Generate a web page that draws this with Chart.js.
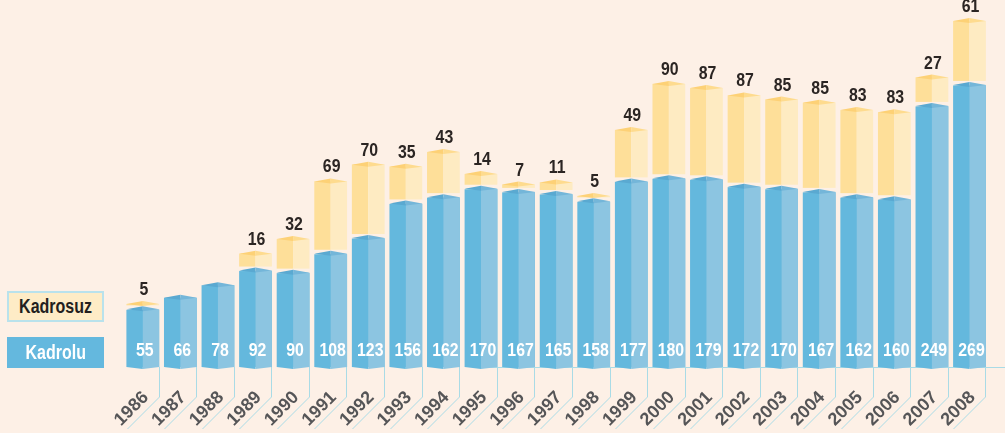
<!DOCTYPE html>
<html><head><meta charset="utf-8">
<script src="https://cdn.jsdelivr.net/npm/chart.js@4.4.1/dist/chart.umd.min.js"></script>
<style>
html,body{margin:0;padding:0;background:#fdf0e6;}
#wrap{position:relative;width:1005px;height:433px;overflow:hidden;}
canvas{position:absolute;left:0;top:0;}
.leg{position:absolute;left:7px;width:97px;height:31px;box-sizing:border-box;font:bold 20px 'Liberation Sans',Arial,sans-serif;display:flex;align-items:center;justify-content:center;}
.leg span{display:inline-block;transform:scaleX(0.8);}
</style></head>
<body><div id="wrap"><canvas id="c" width="1005" height="433"></canvas>
<div class="leg" style="top:291px;background:#feecc6;border:2px solid #b9e2ec;color:#231f20;"><span>Kadrosuz</span></div>
<div class="leg" style="top:337px;background:#64b8de;color:#fff;"><span>Kadrolu</span></div>
</div>
<script>
const years = ['1986','1987','1988','1989','1990','1991','1992','1993','1994','1995','1996','1997','1998','1999','2000','2001','2002','2003','2004','2005','2006','2007','2008'];
const kadrolu = [55,66,78,92,90,108,123,156,162,170,167,165,158,177,180,179,172,170,167,162,160,249,269];
const kadrosuz = [5,null,null,16,32,69,70,35,43,14,7,11,5,49,90,87,87,85,85,83,83,27,61];

const BG = '#fdf0e6';
const B_L = '#64b8dd', B_R = '#8cc5e1', B_TL = '#5aa9d1', B_TR = '#74b6d9';
const Y_L = '#fedf99', Y_R = '#feebc2', Y_TL = '#fdd176', Y_TR = '#fedb8e';
const LINE = '#a9dbe6';
const FONT = "'Liberation Sans', Arial, sans-serif";

function roof(ctx, l, x, r, y, cl, cr) {
  ctx.fillStyle = cl;
  ctx.beginPath(); ctx.moveTo(l, y); ctx.lineTo(x, y - 3); ctx.lineTo(x, y + 2); ctx.closePath(); ctx.fill();
  ctx.fillStyle = cr;
  ctx.beginPath(); ctx.moveTo(x, y - 3); ctx.lineTo(r, y); ctx.lineTo(x, y + 2); ctx.closePath(); ctx.fill();
}
function label(ctx, txt, x, y, color) {
  ctx.save();
  ctx.translate(x, y);
  ctx.scale(0.88, 1);
  ctx.fillStyle = color;
  ctx.font = 'bold 18px ' + FONT;
  ctx.textAlign = 'center'; ctx.textBaseline = 'middle';
  ctx.fillText(txt, 0, 0);
  ctx.restore();
}

const deco = {
  id: 'deco',
  beforeDatasetsDraw(chart) {
    const ctx = chart.ctx, xs = chart.scales.x;
    const base = chart.chartArea.bottom;
    const cw = (xs.right - xs.left) / years.length;
    ctx.save();
    ctx.strokeStyle = LINE; ctx.lineWidth = 1;
    years.forEach((y, i) => {
      const bx = Math.round(xs.getPixelForValue(i) + cw / 2 - 3) + 0.5;
      ctx.beginPath();
      ctx.moveTo(bx, base); ctx.lineTo(bx, base + 30); ctx.lineTo(bx - 32, base + 62);
      ctx.stroke();
    });
    ctx.beginPath();
    ctx.moveTo(xs.getPixelForValue(9) + 6, base + 0.5); ctx.lineTo(chart.width, base + 0.5);
    ctx.stroke();
    ctx.restore();
  },
  afterDatasetsDraw(chart) {
    const ctx = chart.ctx;
    const mB = chart.getDatasetMeta(0), mY = chart.getDatasetMeta(1);
    ctx.save();
    mY.data.forEach((el, i) => {
      if (kadrosuz[i] == null) return;
      const p = el.getProps(['x', 'y', 'base', 'width'], true);
      const l = p.x - p.width / 2, r = p.x + p.width / 2;
      const bot = p.base - 4;
      ctx.fillStyle = BG; ctx.fillRect(l - 1, Math.min(bot, p.y), p.width + 2, p.base - Math.min(bot, p.y) + 0.5);
      if (bot > p.y) {
        ctx.fillStyle = Y_L; ctx.fillRect(l, p.y, p.x - l, bot - p.y);
        ctx.fillStyle = Y_R; ctx.fillRect(p.x, p.y, r - p.x, bot - p.y);
      }
      roof(ctx, l, p.x, r, p.y, Y_TL, Y_TR);
      label(ctx, String(kadrosuz[i]), p.x + 1, p.y - 14, '#2b2523');
    });
    mB.data.forEach((el, i) => {
      const p = el.getProps(['x', 'y', 'base', 'width'], true);
      const l = p.x - p.width / 2, r = p.x + p.width / 2;
      ctx.fillStyle = B_R; ctx.fillRect(p.x, p.y, r - p.x, p.base - p.y);
      roof(ctx, l, p.x, r, p.y, B_TL, B_TR);
      ctx.fillStyle = B_L;
      ctx.beginPath(); ctx.moveTo(l, p.base); ctx.lineTo(p.x, p.base + 2); ctx.lineTo(p.x, p.base); ctx.closePath(); ctx.fill();
      ctx.fillStyle = B_R;
      ctx.beginPath(); ctx.moveTo(p.x, p.base); ctx.lineTo(p.x, p.base + 2); ctx.lineTo(r, p.base); ctx.closePath(); ctx.fill();
      label(ctx, String(kadrolu[i]), p.x + 2, p.base - 16, '#ffffff');
    });
    ctx.restore();
  }
};

new Chart(document.getElementById('c'), {
  type: 'bar',
  data: {
    labels: years,
    datasets: [
      { label: 'Kadrolu', data: kadrolu, backgroundColor: B_L, borderWidth: 0, barPercentage: 0.872, categoryPercentage: 1 },
      { label: 'Kadrosuz', data: kadrosuz, backgroundColor: Y_L, borderWidth: 0, barPercentage: 0.872, categoryPercentage: 1 }
    ]
  },
  options: {
    responsive: false,
    animation: false,
    layout: { padding: { left: 124, right: 11, top: 0, bottom: 0 } },
    plugins: { legend: { display: false }, tooltip: { enabled: false } },
    scales: {
      x: {
        stacked: true,
        grid: { display: false, drawTicks: false },
        border: { display: false },
        afterFit(s) { s.height = 66; },
        ticks: {
          autoSkip: false, minRotation: 45, maxRotation: 45,
          padding: 20, labelOffset: 3,
          color: '#555557', font: { family: FONT, size: 18, weight: 'bold' }
        }
      },
      y: { stacked: true, display: false, min: 0, max: 350 }
    }
  },
  plugins: [deco]
});
</script>
</body></html>
